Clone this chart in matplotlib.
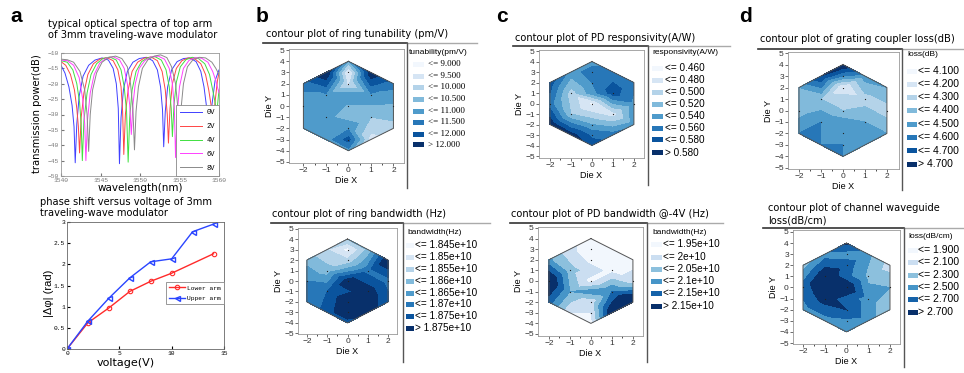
import numpy as np
import matplotlib
matplotlib.use('Agg')
import matplotlib.pyplot as plt
import matplotlib.tri as mtri
from matplotlib.patches import Rectangle
from matplotlib.lines import Line2D

W, H = 964, 373

################################################################################
# panel a : spectra (wavelength nm, power dB), one list pair per bias voltage

WL_0V = [1540.0, 1540.5, 1541.0, 1541.4, 1541.65, 1541.8, 1542.0, 1542.3, 1542.8, 1543.5, 1544.3,
         1545.2, 1546.0, 1546.6, 1547.0, 1547.25, 1547.4, 1547.6, 1547.9, 1548.4, 1549.1, 1549.9,
         1550.8, 1551.6, 1552.2, 1552.6, 1552.85, 1553.0, 1553.2, 1553.5, 1554.0, 1554.7, 1555.5,
         1556.3, 1557.1, 1557.7, 1558.1, 1558.4, 1558.6, 1558.8, 1559.1, 1559.5, 1560.0]
DB_0V = [-14.0, -16.5, -21.0, -27.0, -34.0, -45.7, -33.0, -24.0, -17.5, -14.0, -12.3,
         -11.6, -12.3, -15.0, -20.0, -28.0, -46.0, -31.0, -22.0, -16.0, -13.0, -11.8,
         -11.4, -12.5, -15.5, -21.0, -28.5, -40.5, -29.0, -21.0, -15.5, -12.8, -11.8,
         -11.6, -12.8, -16.0, -21.0, -27.0, -34.0, -39.0, -27.0, -19.0, -15.5]

WL_2V = [1540.0, 1540.6, 1541.2, 1541.7, 1542.0, 1542.2, 1542.35, 1542.55, 1542.9, 1543.4, 1544.1,
         1544.9, 1545.8, 1546.6, 1547.2, 1547.6, 1547.8, 1547.95, 1548.15, 1548.5, 1549.0, 1549.7,
         1550.5, 1551.4, 1552.2, 1552.8, 1553.2, 1553.45, 1553.6, 1553.8, 1554.1, 1554.6, 1555.3,
         1556.1, 1556.9, 1557.7, 1558.3, 1558.7, 1559.0, 1559.25, 1559.5, 1559.8, 1560.0]
DB_2V = [-12.8, -14.0, -17.0, -22.0, -28.0, -34.0, -42.5, -31.0, -23.0, -17.0, -13.5,
         -12.0, -11.5, -12.5, -15.5, -21.0, -29.0, -43.0, -30.0, -22.0, -16.0, -13.0,
         -11.7, -11.3, -12.5, -16.0, -22.0, -30.0, -39.3, -28.0, -20.0, -15.0, -12.5,
         -11.6, -11.8, -13.5, -17.0, -22.0, -27.0, -33.0, -26.0, -19.0, -16.5]

WL_4V = [1540.0, 1540.8, 1541.5, 1542.0, 1542.35, 1542.55, 1542.7, 1542.9, 1543.3, 1543.8, 1544.5,
         1545.3, 1546.2, 1547.0, 1547.6, 1548.0, 1548.3, 1548.5, 1548.7, 1549.0, 1549.5, 1550.2,
         1551.0, 1551.9, 1552.7, 1553.3, 1553.7, 1553.95, 1554.1, 1554.3, 1554.6, 1555.1, 1555.8,
         1556.6, 1557.4, 1558.2, 1558.8, 1559.2, 1559.5, 1559.7, 1560.0]
DB_4V = [-12.5, -13.0, -15.5, -20.0, -26.0, -33.0, -45.0, -32.0, -23.0, -17.0, -13.5,
         -11.8, -11.3, -12.3, -15.5, -21.0, -29.0, -45.5, -31.0, -22.0, -16.0, -12.8,
         -11.5, -11.2, -12.3, -15.5, -21.0, -28.0, -37.2, -27.0, -19.5, -14.5, -12.2,
         -11.4, -11.8, -13.5, -17.0, -22.0, -26.0, -30.0, -22.0]

WL_6V = [1540.0, 1540.8, 1541.6, 1542.3, 1542.75, 1543.0, 1543.15, 1543.35, 1543.7, 1544.2, 1544.9,
         1545.7, 1546.6, 1547.4, 1548.0, 1548.4, 1548.7, 1548.9, 1549.1, 1549.4, 1549.9, 1550.6,
         1551.4, 1552.3, 1553.1, 1553.7, 1554.1, 1554.35, 1554.5, 1554.7, 1555.0, 1555.5, 1556.2,
         1557.0, 1557.8, 1558.6, 1559.2, 1559.6, 1560.0]
DB_6V = [-12.3, -12.5, -14.0, -18.0, -25.0, -33.0, -45.0, -32.0, -23.0, -17.0, -13.3,
         -11.7, -11.2, -12.2, -15.0, -20.0, -27.0, -36.5, -27.0, -20.0, -15.0, -12.5,
         -11.3, -11.0, -12.0, -15.0, -20.0, -28.0, -44.0, -30.0, -21.0, -15.0, -12.4,
         -11.5, -11.7, -13.0, -16.0, -19.0, -23.0]

WL_8V = [1540.0, 1540.8, 1541.6, 1542.4, 1543.0, 1543.3, 1543.5, 1543.7, 1544.0, 1544.5, 1545.2,
         1546.0, 1546.9, 1547.7, 1548.4, 1548.8, 1549.1, 1549.3, 1549.5, 1549.8, 1550.3, 1551.0,
         1551.8, 1552.6, 1553.4, 1554.0, 1554.5, 1554.8, 1555.0, 1555.2, 1555.5, 1556.0, 1556.7,
         1557.5, 1558.3, 1559.1, 1559.6, 1560.0]
DB_8V = [-12.0, -12.2, -13.0, -16.0, -22.0, -30.0, -42.0, -30.0, -22.0, -16.5, -13.0,
         -11.5, -11.0, -11.8, -14.5, -20.0, -28.0, -41.5, -29.0, -21.0, -15.0, -12.2,
         -11.0, -10.6, -11.5, -14.5, -20.0, -28.0, -39.0, -28.0, -20.0, -14.5, -12.2,
         -11.4, -11.6, -13.0, -15.0, -17.0]

SPEC_LABELS = ['0V', '2V', '4V', '6V', '8V']
SPEC_COLORS = ['#4040ff', '#ff4545', '#40e040', '#ff40ff', '#8a8a8a']

# panel a : phase shift
V_LOWER = [0, 2, 4, 6, 8, 10, 14]
PHI_LOWER = [0, 0.62, 0.97, 1.36, 1.60, 1.79, 2.25]
V_UPPER = [0, 2, 4, 6, 8, 10, 12, 14]
PHI_UPPER = [0, 0.66, 1.20, 1.68, 2.06, 2.13, 2.77, 2.95]

################################################################################
# wafer maps : hexagon outline, measured dies and values on a 21 point grid

HEX_X = [0, 2, 2, 0, -2, -2]
HEX_Y = [4, 2, -2, -4, -2, 2]
DIE_X = [0, 0, -1, 1, -2, 0, 2, -1, 1, 0, 0]
DIE_Y = [3, 2, 1, 1, 0, 0, 0, -1, -1, -2, -3]

GRID_X = [0, 0, -1, 1, -2, 2, 0, -1, 1, -2, 0, 2, -1, 1, -2, 2, 0, 0, -1, 1, 0]
GRID_Y = [4, 3, 3, 3, 2, 2, 2, 1, 1, 0, 0, 0, -1, -1, -2, -2, -2, -3, -3, -3, -4]

TUNE = [10.4, 8.8, 12.5, 12.4, 11.2, 11.2, 9.3, 10.9, 10.9, 10.6, 10.45, 10.4,
        10.6, 10.0, 10.6, 9.8, 10.9, 11.7, 10.7, 9.3, 10.8]
TUNE_LEVELS = [9.0, 9.5, 10.0, 10.5, 11.0, 11.5, 12.0]
TUNE_LABELS = ['<= 9.000', '<= 9.500', '<= 10.000', '<= 10.500', '<= 11.000',
               '<= 11.500', '<= 12.000', '> 12.000']

RBW = [1.855, 1.843, 1.850, 1.856, 1.858, 1.880, 1.851, 1.857, 1.868, 1.865, 1.878, 1.868,
       1.870, 1.878, 1.866, 1.872, 1.880, 1.880, 1.872, 1.878, 1.872]
RBW_LEVELS = [1.845, 1.85, 1.855, 1.86, 1.865, 1.87, 1.875]
RBW_LABELS = ['<= 1.845e+10', '<= 1.85e+10', '<= 1.855e+10', '<= 1.86e+10',
              '<= 1.865e+10', '<= 1.87e+10', '<= 1.875e+10', '> 1.875e+10']

RESP = [0.53, 0.55, 0.53, 0.55, 0.57, 0.545, 0.54, 0.49, 0.57, 0.55, 0.455, 0.535,
        0.50, 0.47, 0.595, 0.53, 0.52, 0.555, 0.59, 0.55, 0.57]
RESP_LEVELS = [0.46, 0.48, 0.50, 0.52, 0.54, 0.56, 0.58]
RESP_LABELS = ['<= 0.460', '<= 0.480', '<= 0.500', '<= 0.520', '<= 0.540',
               '<= 0.560', '<= 0.580', '> 0.580']

PDBW = [1.93, 1.93, 1.96, 1.93, 2.06, 1.93, 1.93, 2.02, 1.93, 2.22, 1.93, 1.97,
        2.05, 2.10, 2.12, 2.25, 1.96, 1.95, 1.95, 2.20, 1.93]
PDBW_LEVELS = [1.95, 2.0, 2.05, 2.1, 2.15]
PDBW_LABELS = ['<= 1.95e+10', '<= 2e+10', '<= 2.05e+10', '<= 2.1e+10',
               '<= 2.15e+10', '> 2.15e+10']

GCL = [4.80, 4.50, 4.70, 4.45, 4.40, 4.40, 4.08, 4.30, 4.25, 4.35, 4.30, 4.25,
       4.50, 4.40, 4.50, 4.40, 4.45, 4.50, 4.50, 4.45, 4.50]
GCL_LEVELS = [4.1, 4.2, 4.3, 4.4, 4.5, 4.6, 4.7]
GCL_LABELS = ['<= 4.100', '<= 4.200', '<= 4.300', '<= 4.400', '<= 4.500',
              '<= 4.600', '<= 4.700', '> 4.700']

WGL = [2.75, 2.40, 2.40, 2.35, 2.20, 2.00, 2.60, 2.90, 2.25, 2.60, 2.90, 2.30,
       2.80, 2.40, 2.40, 2.10, 2.70, 2.45, 2.40, 2.40, 2.45]
WGL_LEVELS = [1.9, 2.1, 2.3, 2.5, 2.7]
WGL_LABELS = ['<= 1.900', '<= 2.100', '<= 2.300', '<= 2.500', '<= 2.700', '> 2.700']

################################################################################

fig = plt.figure(figsize=(W / 100, H / 100), dpi=100)

def rect(x0, y0, x1, y1):
    return [x0 / W, 1 - y1 / H, (x1 - x0) / W, (y1 - y0) / H]

def ftext(x, y, s, **kw):
    kw.setdefault('va', 'center')
    fig.text(x / W, 1 - y / H, s, **kw)

def hline(x0, x1, y, color, lw):
    fig.add_artist(Line2D([x0 / W, x1 / W], [1 - y / H, 1 - y / H], color=color, lw=lw,
                          transform=fig.transFigure))

def vline(x, y0, y1, color, lw):
    fig.add_artist(Line2D([x / W, x / W], [1 - y0 / H, 1 - y1 / H], color=color, lw=lw,
                          transform=fig.transFigure))

SANS = 'Liberation Sans'
MONO = 'Liberation Mono'
TSIZE = 7.1

# panel letters
for lx, ly, s in [(10, 17, 'a'), (256, 16, 'b'), (496, 16, 'c'), (739, 17, 'd')]:
    ftext(lx, ly, s, fontsize=15, fontweight='bold', family=SANS)

# ---- spectra
ax = fig.add_axes(rect(61, 53, 219, 176))
spectra = [(WL_0V, DB_0V), (WL_2V, DB_2V), (WL_4V, DB_4V), (WL_6V, DB_6V), (WL_8V, DB_8V)]
for (wl, db), lab, c in zip(spectra, SPEC_LABELS, SPEC_COLORS):
    ax.plot(wl, db, color=c, lw=0.7, label=lab)
ax.set_xlim(1540, 1560)
ax.set_ylim(-50, -10)
ax.set_xticks([1540, 1545, 1550, 1555, 1560])
ax.set_yticks(np.arange(-50, -9, 5))
ax.tick_params(labelsize=4.5, length=2, direction='in', colors='#777777', pad=1.5)
for lbl in ax.get_xticklabels() + ax.get_yticklabels():
    lbl.set_family(MONO)
for sp in ax.spines.values():
    sp.set_color('#999999')
    sp.set_linewidth(0.6)
leg = ax.legend(loc='lower right', prop={'family': MONO, 'size': 5}, handlelength=3.2,
                borderpad=0.6, labelspacing=1.0, fancybox=False, framealpha=1,
                borderaxespad=0.0, handletextpad=0.6)
leg.get_frame().set_edgecolor('#888888')
leg.get_frame().set_linewidth(0.6)
ftext(48, 24, 'typical optical spectra of top arm', fontsize=TSIZE)
ftext(48, 35, 'of 3mm traveling-wave modulator', fontsize=TSIZE)
ftext(37, 114, 'transmission power(dB)', fontsize=7.2, rotation=90, ha='center')
ftext(140, 188, 'wavelength(nm)', fontsize=7.5, ha='center')

# ---- phase shift
ax = fig.add_axes(rect(67, 222, 224, 349))
ax.plot(V_LOWER, PHI_LOWER, '-o', color='#ff2a2a', lw=1, ms=3.2, mfc='none', mew=0.8,
        label='Lower arm')
ax.plot(V_UPPER, PHI_UPPER, '-<', color='#2a45ff', lw=1, ms=3.6, mfc='none', mew=1,
        label='Upper arm')
ax.set_xlim(0, 15)
ax.set_ylim(0, 3)
ax.set_xticks([0, 5, 10, 15])
ax.set_yticks([0, 0.5, 1, 1.5, 2, 2.5, 3])
ax.set_yticklabels(['0', '0.5', '1', '1.5', '2', '2.5', '3'])
ax.tick_params(labelsize=4.5, length=2, direction='in', pad=1.5)
for lbl in ax.get_xticklabels() + ax.get_yticklabels():
    lbl.set_family(MONO)
for sp in ax.spines.values():
    sp.set_color('#666666')
    sp.set_linewidth(0.6)
leg = ax.legend(loc='center right', bbox_to_anchor=(1.0, 0.44), prop={'family': MONO, 'size': 4.5},
                handlelength=2.5, borderpad=0.5, labelspacing=0.8, fancybox=False,
                framealpha=1, borderaxespad=0.0, handletextpad=0.4)
leg.get_frame().set_edgecolor('#888888')
leg.get_frame().set_linewidth(0.6)
ftext(40, 202, 'phase shift versus voltage of 3mm', fontsize=TSIZE)
ftext(40, 213, 'traveling-wave modulator', fontsize=TSIZE)
ftext(49, 293, '|\u0394\u03c6| (rad)', fontsize=8, rotation=90, ha='center', family=SANS)
ftext(126, 363, 'voltage(V)', fontsize=8, ha='center')

# ---- wafer contour maps
tri = mtri.Triangulation(GRID_X, GRID_Y)

def wafer_map(vals, levels, labels, leg_title, box, xlim, ylim, title_lines, title_xy,
              line_x0, line_x1, line_y, sep_x, sep_y1, leg_xy, sw_x, txt_x, ys, legfont=SANS,
              legsize=7.2):
    n = len(levels) + 1
    cols = plt.cm.Blues(np.linspace(0.03, 1.0, n))
    bounds = [min(min(vals), levels[0]) - 1] + list(levels) + [max(max(vals), levels[-1]) + 1]
    ax = fig.add_axes(rect(*box))
    ax.tricontourf(tri, vals, levels=bounds, colors=cols)
    ax.plot(HEX_X + HEX_X[:1], HEX_Y + HEX_Y[:1], color='#555555', lw=0.7)
    ax.plot(DIE_X, DIE_Y, 'o', color='#222222', ms=0.9, mew=0)
    ax.set_xlim(*xlim)
    ax.set_ylim(*ylim)
    ax.set_xticks([-2, -1, 0, 1, 2])
    ax.set_xticks([-1.5, -0.5, 0.5, 1.5], minor=True)
    ax.set_yticks(range(-5, 6))
    ax.tick_params(labelsize=6, length=2, width=0.5, pad=1, colors='#333333')
    ax.tick_params(which='minor', length=1.5, width=0.5)
    for lbl in ax.get_xticklabels() + ax.get_yticklabels():
        lbl.set_family(SANS)
    for sp in ax.spines.values():
        sp.set_color('#999999')
        sp.set_linewidth(0.6)
    ax.set_xlabel('Die X', fontsize=6.5, family=SANS, labelpad=1)
    ax.set_ylabel('Die Y', fontsize=6.5, family=SANS, labelpad=1)
    for k, t in enumerate(title_lines):
        ftext(title_xy[0], title_xy[1] + 13 * k, t, fontsize=TSIZE)
    hline(line_x0, sep_x, line_y, '#333333', 1.2)
    hline(sep_x, line_x1, line_y, '#aaaaaa', 1.0)
    vline(sep_x, line_y, sep_y1, '#555555', 1.0)
    ftext(leg_xy[0], leg_xy[1], leg_title, fontsize=6, family=SANS)
    for y, lab, c in zip(ys, labels, cols):
        fig.add_artist(Rectangle((sw_x[0] / W, 1 - (y + 2.5) / H), (sw_x[1] - sw_x[0]) / W,
                                 5 / H, facecolor=c, edgecolor='none',
                                 transform=fig.transFigure))
        ftext(txt_x, y, lab, fontsize=legsize, family=legfont)

wafer_map(TUNE, TUNE_LEVELS, TUNE_LABELS, 'tunability(pm/V)', (289, 49, 404, 163),
          (-2.64, 2.47), (-5.1, 5.1), ['contour plot of ring tunability (pm/V)'], (266, 34),
          263, 477, 43, 407, 188, (409, 52), (413, 424), 428,
          [64, 76, 87, 99, 111, 122, 134, 145], legfont='Liberation Serif', legsize=6.5)
wafer_map(RBW, RBW_LEVELS, RBW_LABELS, 'bandwidth(Hz)', (298, 228, 397, 334),
          (-2.44, 2.44), (-5.05, 5.05), ['contour plot of ring bandwidth (Hz)'], (272, 214),
          271, 490, 223, 403, 362, (407, 233), (406, 414), 415,
          [245, 257, 269, 281, 293, 304, 316, 328])
wafer_map(RESP, RESP_LEVELS, RESP_LABELS, 'responsivity(A/W)', (539, 50, 644, 158),
          (-2.52, 2.48), (-5.19, 5.1), ['contour plot of PD responsivity(A/W)'], (515, 38),
          513, 730, 46, 648, 185, (652, 53), (652, 663), 665,
          [68, 80, 92, 104, 116, 128, 140, 153])
wafer_map(PDBW, PDBW_LEVELS, PDBW_LABELS, 'bandwidth(Hz)', (538, 227, 643, 336),
          (-2.52, 2.48), (-5.19, 5.09), ['contour plot of PD bandwidth @-4V (Hz)'], (511, 214),
          510, 723, 223, 647, 362, (652, 232), (651, 662), 663,
          [244, 257, 269, 281, 293, 306])
wafer_map(GCL, GCL_LEVELS, GCL_LABELS, 'loss(dB)', (788, 52, 899, 169),
          (-2.5, 2.55), (-5.09, 5.09), ['contour plot of grating coupler loss(dB)'], (760, 39),
          758, 964, 49, 902, 190, (907, 55), (907, 917), 918,
          [71, 84, 97, 110, 124, 137, 151, 164], legsize=7.5)
wafer_map(WGL, WGL_LEVELS, WGL_LABELS, 'loss(dB/cm)', (793, 230, 900, 344),
          (-2.46, 2.46), (-5.09, 5.18), ['contour plot of channel waveguide', 'loss(dB/cm)'],
          (768, 208), 763, 964, 228, 904, 367, (908, 237), (908, 918), 918,
          [250, 262, 275, 287, 299, 312], legsize=7.5)

fig.savefig('out.png', dpi=100)
